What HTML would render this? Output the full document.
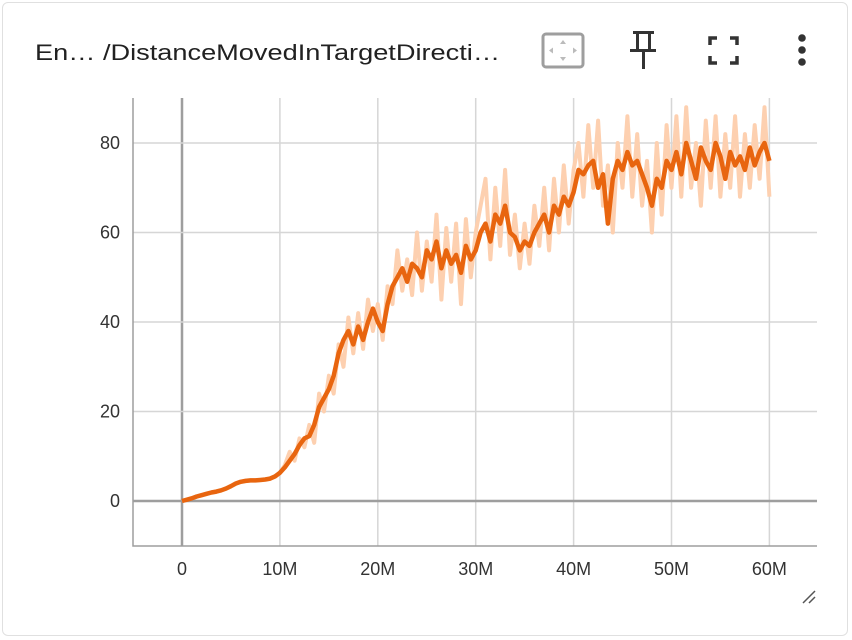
<!DOCTYPE html>
<html><head><meta charset="utf-8"><style>
body{margin:0;background:#fff;font-family:"Liberation Sans",Roboto,sans-serif;}
#card{position:absolute;left:2px;top:2px;width:846px;height:634px;border:1px solid #e0e0e0;border-radius:6px;box-sizing:border-box;}
</style></head><body>
<div id="card"></div>
<svg width="852" height="640" style="position:absolute;left:0;top:0" id="svg">
 <text x="35" y="60" font-size="22" fill="#212121" textLength="465" lengthAdjust="spacingAndGlyphs">En…  /DistanceMovedInTargetDirecti…</text>
 <g><rect x="543" y="34" width="40" height="33" rx="3" fill="none" stroke="#9e9e9e" stroke-width="3"/>
  <path d="M563 40l-3 4h6zM563 61l-3-4h6zM549 50.5l4-3v6zM577 50.5l-4-3v6z" fill="#bbb"/></g>
 <g fill="#333"><rect x="633" y="31" width="21" height="3"/><rect x="636" y="31" width="3" height="20"/><rect x="648" y="31" width="3" height="20"/><rect x="630" y="49" width="26" height="3"/><rect x="642" y="51" width="3" height="18"/></g>
 <g stroke="#333" stroke-width="3.5" fill="none"><path d="M710 45v-7h7M730 38h7v7M737 56v7h-7M717 63h-7v-7"/></g>
 <g fill="#333"><circle cx="802" cy="38" r="3.8"/><circle cx="802" cy="50" r="3.8"/><circle cx="802" cy="62" r="3.8"/></g>
 <g id="grid"></g><g id="plot"></g>
 <path d="M803 603l12-12M809 603l6-6" stroke="#555" stroke-width="1.5"/>
</svg>
<script>
const xTicks=[0,10,20,30,40,50,60];
const xTickLabels=["0","10M","20M","30M","40M","50M","60M"];
const yTicks=[0,20,40,60,80];
const stepsM=[];for(let i=0;i<=120;i++)stepsM.push(i*0.5);
const smoothed=[0,0.3,0.6,1,1.3,1.6,1.9,2.1,2.4,2.8,3.3,3.9,4.3,4.5,4.6,4.6,4.7,4.8,5,5.5,6.3,
7.5,9,10.5,12.5,14,14.5,17,21,23,25,28,33,36,38,35,39,36,40,43,40,
38,44,48,50,52,49,53,52,50,56,54,58,52,56,53,55,51,57,54,56,
60,62,58,64,62,66,60,59,56,58,57,60,62,64,60,66,64,68,66,69,
74,73,75,76,70,73,62,72,76,74,78,75,76,73,70,66,72,70,76,74,
78,73,80,76,72,79,76,74,80,77,72,78,75,77,74,79,75,78,80,76];
const raw=[0,0.3,0.6,1,1.3,1.6,1.9,2.1,2.4,2.8,3.3,3.9,4.3,4.5,4.6,4.6,4.7,4.8,5,5.5,6.3,
8,11,9,14,12,17,13,24,20,28,24,35,30,41,33,42,34,45,38,44,
36,48,44,56,47,54,46,60,47,58,49,64,45,61,49,62,44,63,50,60,
66,72,54,70,57,74,55,64,52,62,53,66,57,70,56,72,60,75,62,74,
80,68,84,70,85,66,75,60,80,70,86,68,82,66,76,60,80,64,84,70,
86,68,88,70,80,66,85,70,86,68,82,70,86,68,82,70,84,72,88,68];
const X0=133,X1=817,Y0=98,Y1=546;
const xs=v=>182+v*9.79, ys=v=>501-v*4.475;
const NS="http://www.w3.org/2000/svg";
const g=document.getElementById('grid'),p=document.getElementById('plot');
function mk(par,tag,at){const e=document.createElementNS(NS,tag);for(const k in at)e.setAttribute(k,at[k]);par.appendChild(e);return e;}
xTicks.forEach((t,i)=>{
 const l=mk(g,'line',{x1:xs(t),x2:xs(t),y1:Y0,y2:Y1,stroke:t===0?'#9e9e9e':'#d6d6d6','stroke-width':t===0?2.5:1.5});
 
 
 const tx=mk(g,'text',{x:xs(t),y:575,'text-anchor':'middle','font-size':18,fill:'#333'});tx.textContent=xTickLabels[i];
 
 
});
yTicks.forEach(t=>{
 const l=mk(g,'line',{x1:X0,x2:X1,y1:ys(t),y2:ys(t),stroke:t===0?'#9e9e9e':'#d6d6d6','stroke-width':t===0?2.5:1.5});
 
 
 const tx=mk(g,'text',{x:120,y:ys(t)+6,'text-anchor':'end','font-size':18,fill:'#333'});tx.textContent=String(t);
 
 
});
const ax=mk(g,'path',{d:`M${X0} ${Y0}V${Y1}H${X1}`,stroke:'#9e9e9e','stroke-width':1.5,fill:'none'});


const pts=a=>a.map((v,i)=>xs(stepsM[i]).toFixed(1)+','+ys(v).toFixed(1)).join(' ');
const r=mk(p,'polyline',{points:pts(raw),fill:'none',stroke:'#fdd0b0','stroke-width':4,'stroke-linejoin':'round'});


const s=mk(p,'polyline',{points:pts(smoothed),fill:'none',stroke:'#e8650f','stroke-width':4.5,'stroke-linejoin':'round'});


</script>
</body></html>
